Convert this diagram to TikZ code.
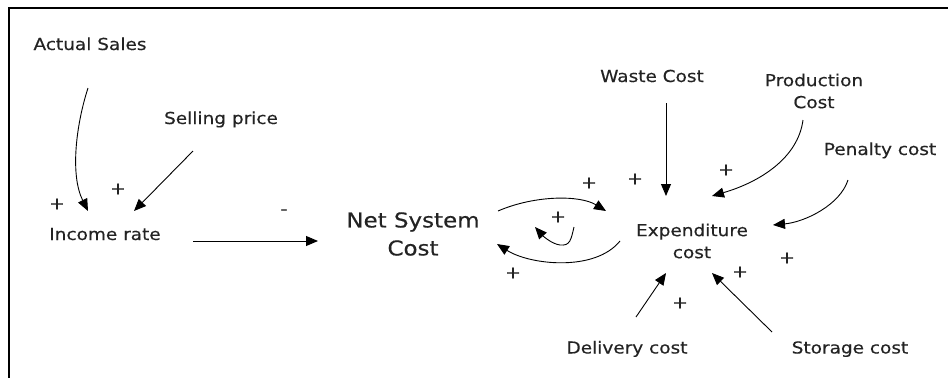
\documentclass[tikz,border=0pt]{standalone}
\usepackage{fontspec}
\setmainfont{DejaVu Sans}[FakeStretch=1.12,FakeBold=0.4]
\usetikzlibrary{arrows.meta}
\definecolor{ink}{RGB}{35,35,35}

\begin{document}
\begin{tikzpicture}[x=1pt,y=-1pt,
  label/.style={font=\fontsize{16.5}{22}\selectfont, text=ink, inner sep=0pt, anchor=base},
  stack/.style={font=\fontsize{16.5}{22}\selectfont, text=ink, inner sep=0pt, align=center},
  big/.style={font=\fontsize{20.5}{28}\selectfont, text=ink, inner sep=0pt, align=center},
  sign/.style={font=\fontsize{17}{20}\selectfont, text=ink, inner sep=0pt},
  arr/.style={line width=0.9pt, -{Triangle[length=12pt,width=10pt]}}]

\useasboundingbox (0,0) rectangle (948,378);
% frame
\draw[line width=1.6pt] (948,8) -- (9,8) -- (9,378);

% variables
\node[label] (as)  at (90,50)    {Actual Sales};
\node[label] (sp)  at (221,124)  {Selling price};
\node[label] (ir)  at (105,240)  {Income rate};
\node[big]   (nsc) at (413,234)  {Net System\\Cost};
\node[stack] (ec)  at (692,241)  {Expenditure\\cost};
\node[label] (wc)  at (652,82)   {Waste Cost};
\node[stack] (pc)  at (814,91)   {Production\\Cost};
\node[label] (pen) at (880,155)  {Penalty cost};
\node[label] (dc)  at (627,353.5){Delivery cost};
\node[label] (stc) at (850,353.5){Storage cost};

% links into income rate
\draw[arr] ([shift={(-2,38)}]as.base) .. controls (76,125) and (70,175) .. ([shift={(-17,-29)}]ir.base);
\draw[arr] ([shift={(-28,27)}]sp.base) -- ([shift={(29,-29)}]ir.base);
\draw[arr] ([shift={(88,1)}]ir.base) -- ([shift={(-95,7)}]nsc.center);

% loop between net system cost and expenditure
\draw[arr] ([shift={(85,-23)}]nsc.center) .. controls (535,195) and (580,195) .. ([shift={(-86,-30)}]ec.center);
\draw[arr] ([shift={(-72,0)}]ec.center) .. controls (595,272) and (530,265) .. ([shift={(84,10)}]nsc.center);
\coordinate (hooka) at (574,227);
\coordinate (hookb) at (535,227);
\draw[arr] (hooka) .. controls (571,240) and (570,246) .. (560,245) .. controls (552,244) and (543,236) .. (hookb);

% cost drivers of expenditure
\draw[arr] ([shift={(14,21)}]wc.base) -- ([shift={(-26,-45)}]ec.center);
\draw[arr] ([shift={(-11,29)}]pc.center) .. controls (798,158) and (760,182) .. ([shift={(20,-45)}]ec.center);
\draw[arr] ([shift={(-32,25)}]pen.base) .. controls (840,205) and (805,222) .. ([shift={(81,-16)}]ec.center);
\draw[arr] ([shift={(9,-36.5)}]dc.base) -- ([shift={(-26,32)}]ec.center);
\draw[arr] ([shift={(-78,-21.5)}]stc.base) -- ([shift={(20,32)}]ec.center);

% polarities
\foreach \p/\x/\y in {p1/57/204, p2/118/189, p3/558/217, p4/589/183, p5/635/179,
                      p6/513/273, p7/726/170, p8/787/258, p9/740/272, p10/680/303}
  \node[sign] (\p) at (\x,\y) {+};
\node[sign] (m1) at (284,212) {-};
\end{tikzpicture}
\end{document}
